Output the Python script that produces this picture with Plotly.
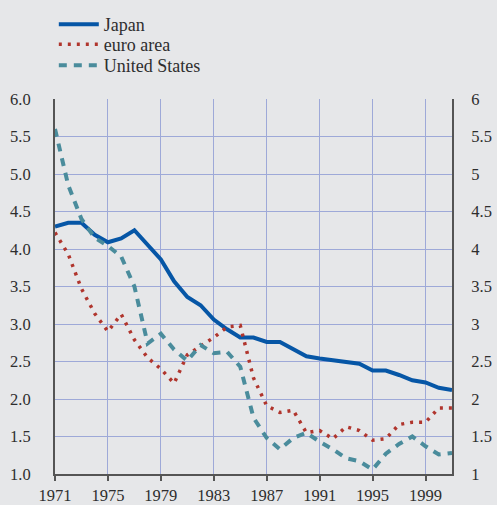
import plotly.graph_objects as go

# Annual values, 1971-2001
years = list(range(1971, 2002))

japan = [4.30, 4.35, 4.35, 4.19, 4.09, 4.14, 4.25, 4.06, 3.86, 3.57,
         3.36, 3.25, 3.06, 2.93, 2.82, 2.82, 2.76, 2.76, 2.66, 2.57,
         2.54, 2.52, 2.50, 2.47, 2.38, 2.38, 2.32, 2.25, 2.22, 2.15,
         2.12]

euro_area = [4.22, 3.93, 3.47, 3.14, 2.90, 3.13, 2.79, 2.55, 2.40, 2.21,
             2.59, 2.71, 2.82, 2.96, 2.98, 2.28, 1.91, 1.82, 1.85, 1.55,
             1.58, 1.47, 1.63, 1.58, 1.45, 1.47, 1.66, 1.69, 1.69, 1.88,
             1.88]

united_states = [5.60, 4.85, 4.40, 4.15, 4.04, 3.90, 3.50, 2.74, 2.87, 2.66,
                 2.51, 2.72, 2.61, 2.63, 2.43, 1.75, 1.48, 1.33, 1.48, 1.55,
                 1.43, 1.33, 1.21, 1.17, 1.06, 1.27, 1.40, 1.50, 1.37, 1.26,
                 1.28]

x_ticks = [1971, 1975, 1979, 1983, 1987, 1991, 1995, 1999]
x_tick_labels = ["1971", "1975", "1979", "1983", "1987", "1991", "1995", "1999"]
y_ticks = [1.0, 1.5, 2.0, 2.5, 3.0, 3.5, 4.0, 4.5, 5.0, 5.5, 6.0]
y_left_labels = ["1.0", "1.5", "2.0", "2.5", "3.0", "3.5", "4.0", "4.5", "5.0", "5.5", "6.0"]
y_right_labels = ["1", "1.5", "2", "2.5", "3", "3.5", "4", "4.5", "5", "5.5", "6"]
y_range = [1, 6]

BG = "#e6e7e9"
GRID = "#9ea9d8"
AXIS = "#555555"
TEXT = "#2e2e2e"
FONT = "Liberation Serif, DejaVu Serif, serif"
LEG_FONT = dict(family=FONT, size=18, color=TEXT)

fig = go.Figure()
fig.add_trace(go.Scatter(x=years, y=japan, name="Japan", mode="lines",
                         legend="legend",
                         line=dict(color="#0656a6", width=4)))
fig.add_trace(go.Scatter(x=years, y=euro_area, name="euro area", mode="lines",
                         legend="legend2",
                         line=dict(color="#b0352d", width=3.5, dash="3px,6px")))
# the right-hand scale shares the left one's range; this series carries it
fig.add_trace(go.Scatter(x=years, y=united_states, name="United States", mode="lines",
                         legend="legend3", yaxis="y2",
                         line=dict(color="#4a8c9c", width=4, dash="8px,7px")))

# one legend per row so the rows keep a tight, even spacing
def legend_row(top_px):
    return dict(x=-0.003, y=1 + (99 - top_px) / 375, xanchor="left", yanchor="top",
                bgcolor="rgba(0,0,0,0)", itemwidth=40, font=LEG_FONT)

fig.update_layout(
    width=497, height=505,
    margin=dict(l=55, r=45, t=99, b=31, autoexpand=False),
    paper_bgcolor=BG, plot_bgcolor=BG,
    font=dict(family=FONT, size=16.5, color=TEXT),
    showlegend=True,
    legend=legend_row(6),
    legend2=legend_row(26),
    legend3=legend_row(47),
    xaxis=dict(range=[1971, 2001], tickvals=x_ticks, ticktext=x_tick_labels,
               tickangle=0,
               showgrid=True, gridcolor=GRID, gridwidth=1,
               showline=True, linecolor=AXIS, linewidth=2,
               ticks="outside", ticklen=5, tickwidth=1.5, tickcolor=AXIS,
               zeroline=False, fixedrange=True),
    yaxis=dict(range=y_range, tickvals=y_ticks, ticktext=y_left_labels,
               showgrid=True, gridcolor=GRID, gridwidth=1,
               showline=True, linecolor=AXIS, linewidth=2,
               ticks="", ticklabelstandoff=19, zeroline=False),
    yaxis2=dict(range=y_range, tickvals=y_ticks, ticktext=y_right_labels,
                overlaying="y", side="right", showgrid=False,
                showline=True, linecolor=AXIS, linewidth=2,
                ticks="", ticklabelstandoff=14, zeroline=False),
)

fig.write_html("out.html")
